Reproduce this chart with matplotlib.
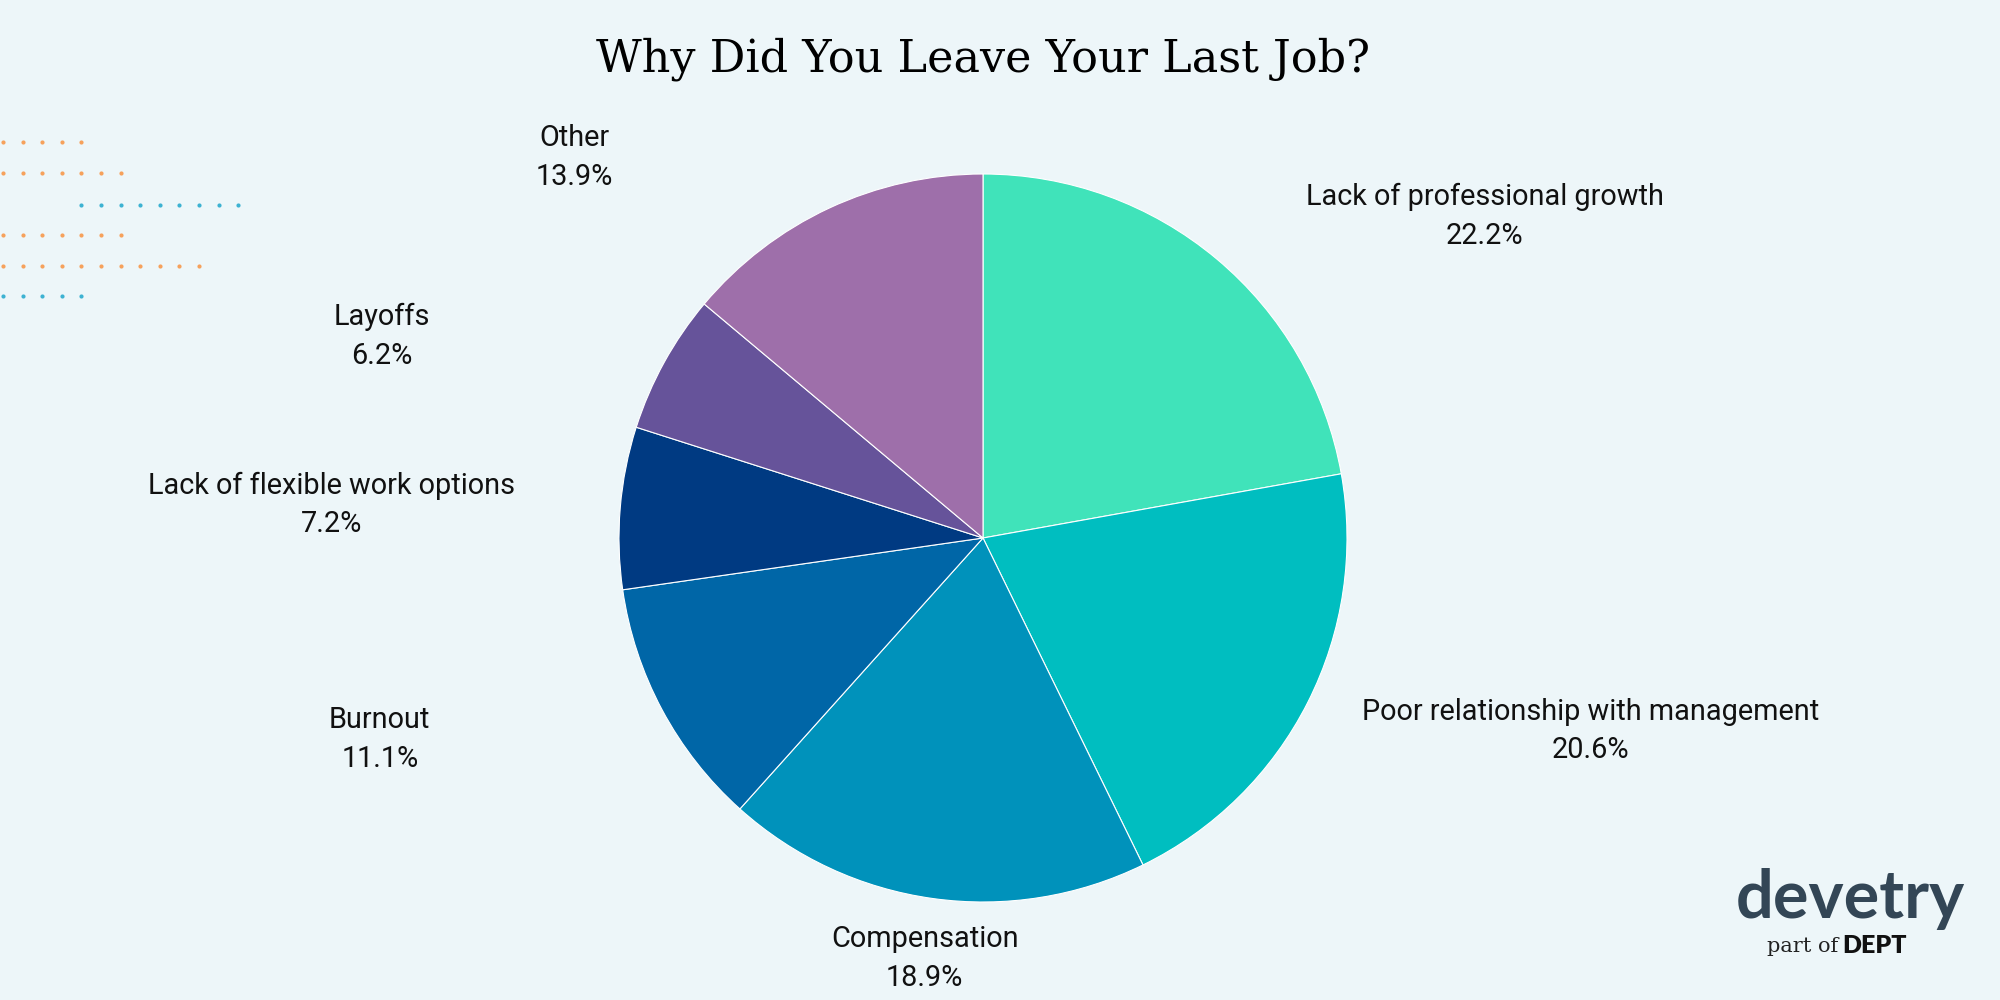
import numpy as np
import matplotlib.pyplot as plt

plt.rcParams['font.family'] = ['Roboto', 'DejaVu Sans']

reasons = ['Lack of professional growth', 'Poor relationship with management',
           'Compensation', 'Burnout', 'Lack of flexible work options',
           'Layoffs', 'Other']
shares = [22.2, 20.6, 18.9, 11.1, 7.2, 6.2, 13.9]
colors = ['#40E3BA', '#00BEC0', '#0092BB', '#0066A7', '#003A82', '#66539A', '#9E6FAA']

bg = '#EDF6F9'
W, H = 2000, 1000
cx, cy, R = 983, 538, 364   # pie centre / radius in pixels (from top-left)

fig = plt.figure(figsize=(20, 10), dpi=100, facecolor=bg)
ax = fig.add_axes([0, 0, 1, 1])
ax.set_facecolor(bg)

wedges, _ = ax.pie(shares, colors=colors, startangle=90, counterclock=False,
                   wedgeprops=dict(edgecolor='white', linewidth=0.8))
ax.set_xlim(-cx / R, (W - cx) / R)
ax.set_ylim(-(H - cy) / R, cy / R)
ax.set_aspect('equal')
ax.axis('off')

# labels: pushed out to 1.165 r, then shifted sideways for side labels
for w, name, v in zip(wedges, reasons, shares):
    th = np.deg2rad((w.theta1 + w.theta2) / 2)
    x = 1.165 * np.cos(th)
    y = 1.16 * np.sin(th) - 0.006
    if abs(np.cos(th)) > 0.3:
        x += 0.63 * np.sign(np.cos(th))
    ax.text(x, y, f'{name}\n{v}%', ha='center', va='center', fontsize=20.8,
            linespacing=1.47, color='#111111')

fig.text(cx / W, 1 - 59 / H, 'Why Did You Leave Your Last Job?', ha='center', va='center',
         fontsize=32, family='DejaVu Serif', color='#000000')

# decorative dots, top left
rows = [(142, 0, 5, '#F6A15C'), (173, 0, 7, '#F6A15C'), (205, 4, 9, '#3DB2D2'),
        (235, 0, 7, '#F6A15C'), (266, 0, 11, '#F6A15C'), (296, 0, 5, '#3DB2D2')]
for yy, start, n, c in rows:
    xs = 3 + 19.6 * np.arange(start, start + n)
    ax.scatter((xs - cx) / R, np.full(n, (cy - yy) / R), s=9, color=c, linewidths=0)

# logo
fig.text(1850 / W, 1 - 899 / H, 'devetry', ha='center', va='center', fontsize=48,
         family='Lato', weight='bold', color='#334656')
fig.text(1838 / W, 1 - 946 / H, 'part of', ha='right', va='center', fontsize=15,
         family='DejaVu Serif', color='#222222')
fig.text(1842 / W, 1 - 946 / H, 'DEPT', ha='left', va='center', fontsize=18,
         family='Lato', weight='heavy', color='#111111')

fig.savefig('out.png', dpi=100, facecolor=bg)
